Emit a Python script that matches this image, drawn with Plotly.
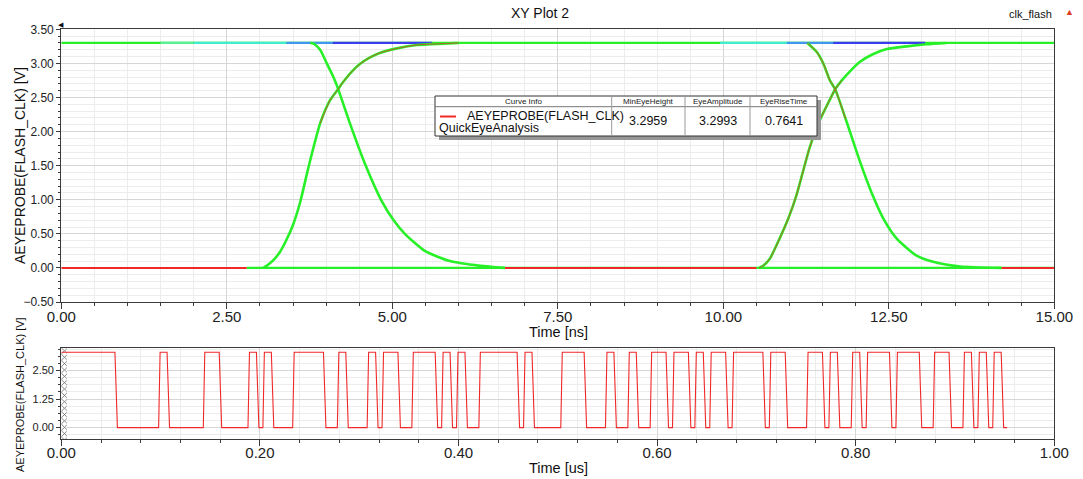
import plotly.graph_objects as go

W, H = 1083, 479

# ---------------- eye diagram (top panel), time in ns, voltage in V ----------------
rise1_t = [3.05, 3.10, 3.20, 3.30, 3.40, 3.50, 3.61, 3.71, 3.76, 3.91, 4.06, 4.18, 4.26, 4.41, 4.51, 4.65, 4.80, 5.07, 5.37, 5.77, 6.00]
rise1_v = [0.00, 0.03, 0.11, 0.23, 0.41, 0.63, 0.97, 1.38, 1.58, 2.12, 2.46, 2.62, 2.73, 2.90, 2.99, 3.08, 3.15, 3.22, 3.27, 3.29, 3.30]

fall1_t = [3.76, 3.81, 3.91, 4.01, 4.11, 4.18, 4.36, 4.59, 4.84, 5.02, 5.19, 5.49, 5.87, 6.33, 6.70]
fall1_v = [3.30, 3.29, 3.20, 3.00, 2.80, 2.63, 2.12, 1.52, 0.98, 0.70, 0.50, 0.25, 0.10, 0.03, 0.00]

rise2_t = [10.54, 10.60, 10.70, 10.85, 10.98, 11.10, 11.20, 11.30, 11.45, 11.60, 11.69, 11.79, 11.95, 12.06, 12.25, 12.47, 12.77, 13.07, 13.37]
rise2_v = [0.00, 0.03, 0.13, 0.43, 0.72, 1.05, 1.40, 1.75, 2.15, 2.45, 2.62, 2.75, 2.92, 3.02, 3.13, 3.21, 3.25, 3.28, 3.30]

fall2_t = [11.27, 11.41, 11.51, 11.61, 11.69, 11.85, 12.05, 12.25, 12.42, 12.62, 12.92, 13.17, 13.58, 14.20]
fall2_v = [3.30, 3.17, 3.00, 2.75, 2.62, 2.18, 1.60, 1.08, 0.72, 0.43, 0.18, 0.09, 0.02, 0.00]

v_high = 3.30
v_low = 0.00

# density colouring of the settled levels: (start ns, end ns, colour)
high_segments = [
    (1.50, 2.00, "rgb(90,240,150)"),
    (2.00, 3.40, "rgb(64,236,205)"),
    (3.40, 4.10, "rgb(64,150,240)"),
    (4.10, 5.60, "rgb(60,60,240)"),
    (9.95, 10.96, "rgb(64,236,205)"),
    (10.96, 11.66, "rgb(64,150,240)"),
    (11.66, 13.05, "rgb(60,60,240)"),
]
low_red_segments = [(0.00, 2.80), (6.70, 10.50), (14.20, 15.00)]

# ---------------- transient waveform (bottom panel) ----------------
bit_pattern = (
    "1111111" "000000" "1" "00000" "11" "0000" "1" "0" "1" "000" "1111" "00" "1" "000" "1" "0"
    "11" "00" "111" "0" "1" "0" "1" "00" "11111" "0" "1" "0000" "111" "000" "1" "00" "1" "00"
    "11" "0" "11" "0" "1" "0" "11" "0" "1111" "0" "11" "000" "11" "0" "1" "00" "1" "0" "111"
    "0" "111" "00" "11" "00" "1" "0" "1" "0" "1" "0"
)
bits = [int(c) for c in bit_pattern]
ui_ns = 7.5
rise_delay_ns, rise_len_ns = 0.5, 1.5
fall_delay_ns, fall_len_ns = 1.5, 2.5

wave_t, wave_v = [0.0], [v_high if bits[0] else v_low]
for n in range(1, len(bits)):
    if bits[n] == bits[n - 1]:
        continue
    if bits[n]:
        t0 = n * ui_ns + rise_delay_ns
        t1 = t0 + rise_len_ns
    else:
        t0 = n * ui_ns + fall_delay_ns
        t1 = t0 + fall_len_ns
    wave_t += [t0 / 1000.0, t1 / 1000.0]
    wave_v += [v_high if bits[n - 1] else v_low, v_high if bits[n] else v_low]
wave_t.append(len(bits) * ui_ns / 1000.0)
wave_v.append(v_high if bits[-1] else v_low)

y_range = [-0.5, 3.5]

# legend table values
table_headers = ["Curve Info", "MinEyeHeight", "EyeAmplitude", "EyeRiseTime"]
table_values = ["3.2959", "3.2993", "0.7641"]
curve_name = "AEYEPROBE(FLASH_CLK)"
curve_sub = "QuickEyeAnalysis"

GREEN = "rgb(40,240,40)"
RED = "rgb(240,40,40)"

fig = go.Figure()


def line(x, y, color, width, xa="x", ya="y", smooth=False):
    ln = dict(color=color, width=width)
    if smooth:
        ln.update(shape="spline", smoothing=0.6)
    fig.add_trace(go.Scatter(x=x, y=y, mode="lines", line=ln,
                             xaxis=xa, yaxis=ya, hoverinfo="skip", showlegend=False))


# settled levels
line([0, 15], [v_high, v_high], GREEN, 2.2)
line([2.80, 15], [v_low, v_low], GREEN, 2.2)
for a, b in low_red_segments:
    line([a, b], [v_low, v_low], RED, 2.0)
for a, b, c in high_segments:
    line([a, b], [v_high, v_high], c, 2.2)

# transitions
for tt, vv in [(rise1_t, rise1_v), (fall1_t, fall1_v), (rise2_t, rise2_v), (fall2_t, fall2_v)]:
    line(tt, vv, GREEN, 2.6, smooth=True)
line(rise1_t[9:], rise1_v[9:], "rgba(230,40,40,0.8)", 0.9, smooth=True)
line(rise2_t[:12], rise2_v[:12], "rgba(230,40,40,0.8)", 0.9, smooth=True)
line(fall2_t[:6], fall2_v[:6], "rgba(230,40,40,0.8)", 0.9, smooth=True)

# cross-hatched start marker column on the transient panel
fig.add_trace(go.Bar(x=[0.0028], y=[y_range[1] - y_range[0]], base=[y_range[0]], width=[0.0056],
                     xaxis="x2", yaxis="y2", hoverinfo="skip", showlegend=False,
                     marker=dict(color="white", line=dict(width=0),
                                 pattern=dict(shape="x", fgcolor="#555555", bgcolor="white",
                                              fillmode="replace", size=4.5, solidity=0.3))))

# bottom waveform
line(wave_t, wave_v, RED, 1.1, "x2", "y2")

# ---------------- axes ----------------
x0p, x1p = 61.3 / W, 1054.3 / W
top_dom = [1 - 302 / H, 1 - 29.3 / H]
bot_dom = [1 - 439 / H, 1 - 347.7 / H]

AX = "#3a3a3a"
GRID = "#d6d6d6"
MGRID = "#ececec"
TICKC = "#222222"

common = dict(showline=True, linecolor=AX, linewidth=1.2, mirror=True, zeroline=False,
              ticks="outside", tickcolor=AX, showgrid=True, gridcolor=GRID, gridwidth=1,
              automargin=False, fixedrange=True)

fig.update_layout(
    xaxis=dict(domain=[x0p, x1p], range=[0, 15], tick0=0, dtick=2.5, tickformat=".2f",
               ticklen=6, tickfont=dict(size=15, color=TICKC), anchor="y", ticklabelstandoff=-5,
               minor=dict(dtick=0.5, ticks="outside", ticklen=3, tickcolor=AX,
                          showgrid=True, gridcolor=MGRID), **common),
    yaxis=dict(domain=top_dom, range=y_range, tick0=0, dtick=0.5, tickformat=".2f",
               ticklen=4, tickfont=dict(size=12, color=TICKC), anchor="x",
               minor=dict(dtick=0.1, ticks="outside", ticklen=2, tickcolor=AX,
                          showgrid=True, gridcolor=MGRID), **common),
    xaxis2=dict(domain=[x0p, x1p], range=[0, 1], tick0=0, dtick=0.2, tickformat=".2f",
                ticklen=6, tickfont=dict(size=15, color=TICKC), anchor="y2", ticklabelstandoff=-6,
                minor=dict(dtick=0.04, ticks="outside", ticklen=3, tickcolor=AX,
                           showgrid=True, gridcolor=MGRID), **common),
    yaxis2=dict(domain=bot_dom, range=y_range, tick0=0, dtick=1.25, tickformat=".2f",
                ticklen=4, tickfont=dict(size=11, color=TICKC), anchor="x2",
                minor=dict(dtick=0.3125, ticks="outside", ticklen=2, tickcolor=AX,
                           showgrid=True, gridcolor=MGRID), **common),
    width=W, height=H,
    margin=dict(l=0, r=0, t=0, b=0),
    paper_bgcolor="white", plot_bgcolor="white",
    font=dict(family="Liberation Sans, Arial, sans-serif", color="#111"),
    showlegend=False, barmode="overlay",
)


def px(x):
    return x / W


def py(y):
    return 1 - y / H


ann = []


def text(x, y, s, size, color="#111", angle=0, xanchor="center", yanchor="middle"):
    f = dict(size=size, color=color, family="Liberation Sans, Arial, sans-serif")
    ann.append(dict(x=px(x), y=py(y), xref="paper", yref="paper", text=s, showarrow=False,
                    font=f, textangle=angle, xanchor=xanchor, yanchor=yanchor))


text(540, 13, "XY Plot 2", 14)
text(1030, 14, "clk_flash", 11)
text(1069, 12, "▲", 9, color="rgb(220,60,40)")
text(61, 24, "◀", 7, color="#111")
text(558, 332, "Time [ns]", 14.5)
text(558, 468, "Time [us]", 14.5)
text(20, 166, "AEYEPROBE(FLASH_CLK) [V]", 14, angle=-90)
text(20, 395, "AEYEPROBE(FLASH_CLK) [V]", 11, angle=-90)

# legend table
shapes = []
tx0, tx1, ty0, ty1, thead = 435, 817, 96, 136, 106.7
cols = [435, 611.7, 685, 750, 817]
shapes.append(dict(type="rect", xref="paper", yref="paper", x0=px(tx0 + 4), x1=px(tx1 + 4),
                   y0=py(ty1 + 4), y1=py(ty0 + 4), fillcolor="rgb(150,150,150)", line=dict(width=0)))
shapes.append(dict(type="rect", xref="paper", yref="paper", x0=px(tx0), x1=px(tx1),
                   y0=py(ty1), y1=py(ty0), fillcolor="white", line=dict(color="#333", width=1)))
shapes.append(dict(type="line", xref="paper", yref="paper", x0=px(tx0), x1=px(tx1),
                   y0=py(thead), y1=py(thead), line=dict(color="#777", width=1)))
for cx in cols[1:-1]:
    shapes.append(dict(type="line", xref="paper", yref="paper", x0=px(cx), x1=px(cx),
                       y0=py(ty1), y1=py(ty0), line=dict(color="#999", width=1)))
shapes.append(dict(type="line", xref="paper", yref="paper", x0=px(440), x1=px(456),
                   y0=py(116.5), y1=py(116.5), line=dict(color=RED, width=2)))
for i, h in enumerate(table_headers):
    text((cols[i] + cols[i + 1]) / 2, 101.5, h, 8, color="#222")
for i, v in enumerate(table_values):
    text((cols[i + 1] + cols[i + 2]) / 2, 121.5, v, 12.5, color="#111")
text(465, 116, curve_name, 12.5, xanchor="left")
text(437, 128, curve_sub, 12.5, xanchor="left")

fig.update_layout(annotations=ann, shapes=shapes)
fig.write_html("out.html")
